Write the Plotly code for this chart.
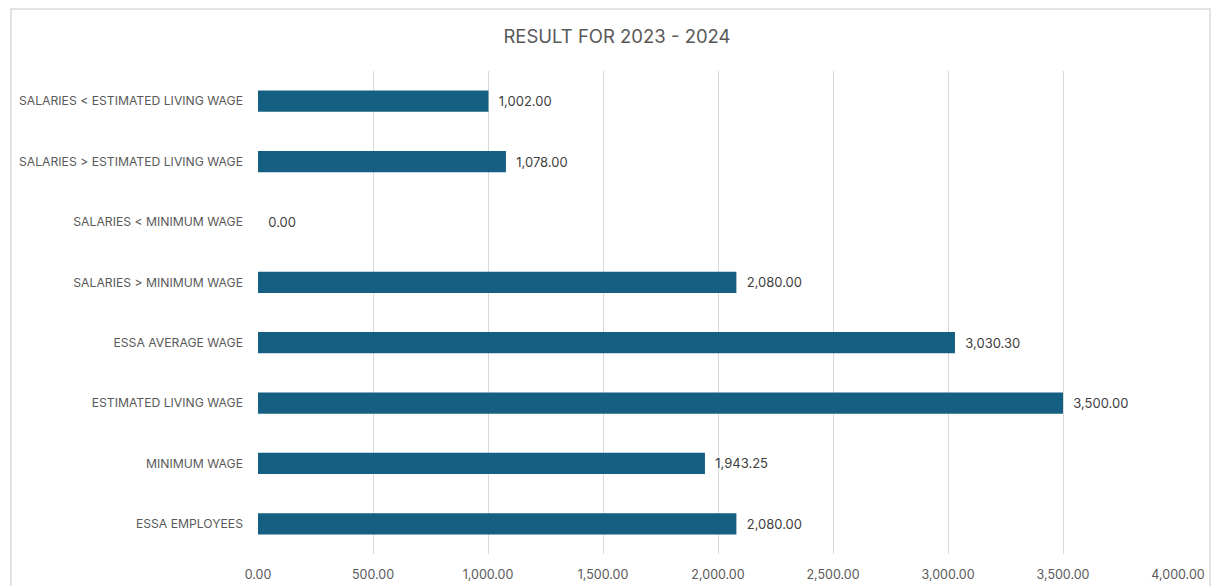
import plotly.graph_objects as go

categories = [
    "ESSA EMPLOYEES",
    "MINIMUM WAGE",
    "ESTIMATED LIVING WAGE",
    "ESSA AVERAGE WAGE",
    "SALARIES > MINIMUM WAGE",
    "SALARIES < MINIMUM WAGE",
    "SALARIES > ESTIMATED LIVING WAGE",
    "SALARIES < ESTIMATED LIVING WAGE",
]
values = [2080.00, 1943.25, 3500.00, 3030.30, 2080.00, 0.00, 1078.00, 1002.00]
tick_vals = [0, 500, 1000, 1500, 2000, 2500, 3000, 3500, 4000]

W, H = 1211, 586
L, R, T, B = 258, 33, 71, 32
pw, ph = W - L - R, H - T - B
FONT = "Inter, Roboto, sans-serif"

fig = go.Figure(go.Bar(
    x=values, y=categories, orientation="h",
    marker=dict(color="#156082", line=dict(width=0)),
    width=0.35,
    texttemplate="  %{x:,.2f}", textposition="outside", cliponaxis=False,
    textfont=dict(family=FONT, size=13, color="#404040"),
    hoverinfo="skip",
))

fig.update_layout(
    width=W, height=H,
    margin=dict(l=L, r=R, t=T, b=B, autoexpand=False),
    paper_bgcolor="white", plot_bgcolor="white",
    showlegend=False,
    title=dict(text="RESULT FOR 2023 - 2024", x=617 / W, xref="container", y=1 - 37 / H, yref="container",
               xanchor="center", yanchor="middle",
               font=dict(family=FONT, size=18.5, color="#595959")),
    xaxis=dict(range=[0, 4000], tickvals=tick_vals, tickformat=",.2f",
               showgrid=True, gridcolor="#d9d9d9", gridwidth=1, zeroline=False,
               showline=False, ticks="", ticklen=0, automargin=False,
               ticklabelstandoff=11,
               tickfont=dict(family=FONT, size=12.5, color="#595959")),
    yaxis=dict(showgrid=False, zeroline=False, showline=False, ticks="",
               ticklabelstandoff=14, automargin=False,
               tickfont=dict(family=FONT, size=12.2, color="#595959")),
    shapes=[dict(type="rect", xref="paper", yref="paper",
                 x0=(11 - L) / pw, x1=(1210 - L) / pw,
                 y0=-0.3, y1=(H - B - 9) / ph,
                 line=dict(color="#d9d9d9", width=1.5), layer="below")],
)

fig.write_html("out.html")
